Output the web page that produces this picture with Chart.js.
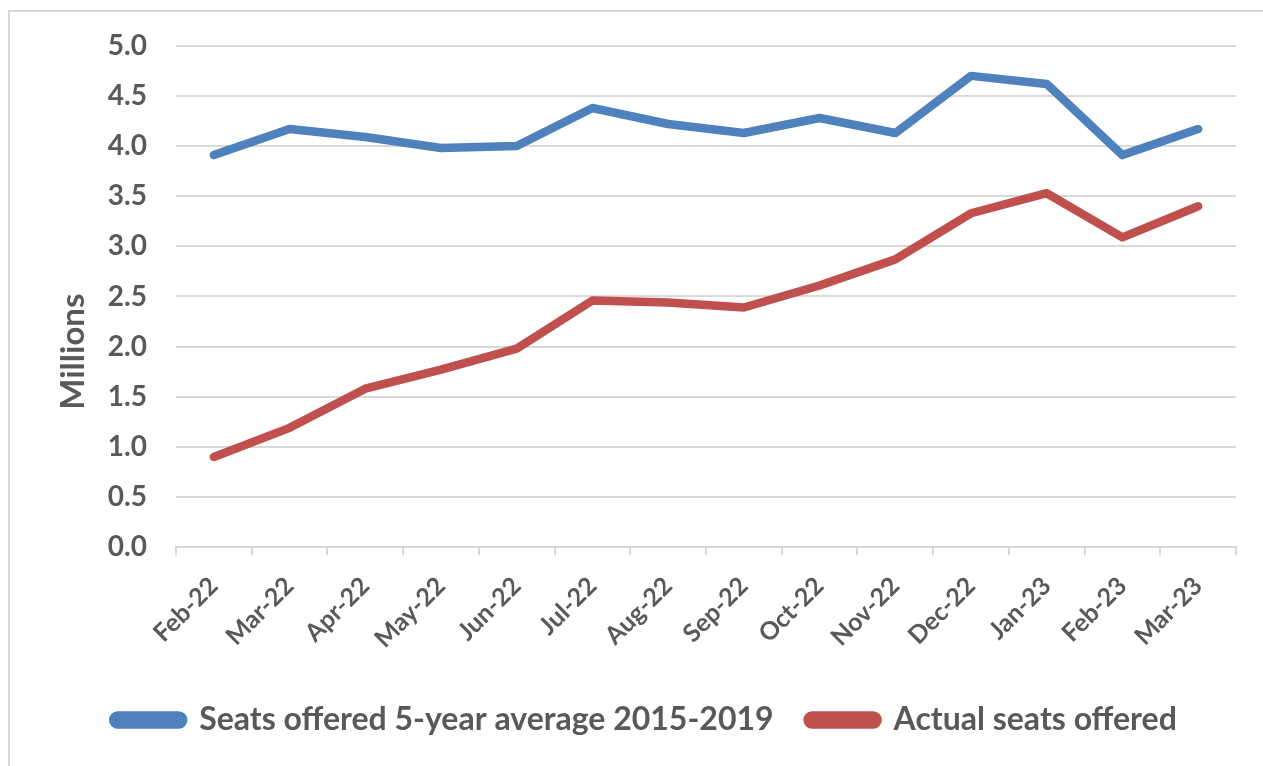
<!DOCTYPE html>
<html>
<head>
<meta charset="utf-8">
<script src="https://cdn.jsdelivr.net/npm/chart.js@4"></script>
<style>
  html, body { margin: 0; padding: 0; background: #fff; }
  #frame {
    position: absolute; left: 8px; top: 10px; width: 1270px; height: 770px;
    border-left: 2px solid #d9d9d9; border-top: 2px solid #d9d9d9;
  }
  #wrap { position: absolute; left: 0; top: 0; width: 1263px; height: 766px; }
</style>
</head>
<body>
<div id="frame"></div>
<div id="wrap"><canvas id="seats"></canvas></div>
<script>
// months shown on the x axis
const months = ['Feb-22', 'Mar-22', 'Apr-22', 'May-22', 'Jun-22', 'Jul-22', 'Aug-22',
  'Sep-22', 'Oct-22', 'Nov-22', 'Dec-22', 'Jan-23', 'Feb-23', 'Mar-23'];

// seats, in millions
const avgSeats = [3.91, 4.17, 4.09, 3.98, 4.00, 4.38, 4.22, 4.13, 4.28, 4.13, 4.70, 4.62, 3.91, 4.17];
const actualSeats = [0.90, 1.19, 1.58, 1.77, 1.98, 2.46, 2.44, 2.39, 2.61, 2.87, 3.33, 3.53, 3.09, 3.40];

const avgLabel = 'Seats offered 5-year average 2015-2019';
const actualLabel = 'Actual seats offered';

const gray = '#595959';
const gridGray = '#d9d9d9';
const fontFam = 'Lato, "Open Sans", sans-serif';

// y title sits a bit below centre in the original, so draw it by hand
const yTitle = {
  id: 'yTitle',
  afterDraw(chart) {
    const ctx = chart.ctx;
    const area = chart.chartArea;
    ctx.save();
    ctx.translate(73, area.top + (area.bottom - area.top) * 0.61);
    ctx.rotate(-Math.PI / 2);
    ctx.fillStyle = gray;
    ctx.font = 'bold 33px ' + fontFam;
    ctx.textAlign = 'center';
    ctx.textBaseline = 'middle';
    ctx.fillText('Millions', 0, 0);
    ctx.restore();
  }
};

new Chart(document.getElementById('seats'), {
  type: 'line',
  data: {
    labels: months,
    datasets: [
      {
        label: avgLabel,
        data: avgSeats,
        borderColor: '#4f81bd',
        backgroundColor: '#4f81bd',
        borderWidth: 8.5,
        pointRadius: 0,
        borderCapStyle: 'round',
        borderJoinStyle: 'round',
        tension: 0
      },
      {
        label: actualLabel,
        data: actualSeats,
        borderColor: '#c0504d',
        backgroundColor: '#c0504d',
        borderWidth: 8.5,
        pointRadius: 0,
        borderCapStyle: 'round',
        borderJoinStyle: 'round',
        tension: 0
      }
    ]
  },
  options: {
    responsive: true,
    maintainAspectRatio: false,
    animation: false,
    layout: { padding: { left: 54, right: 27, top: 41, bottom: 20 } },
    plugins: {
      legend: {
        position: 'bottom',
        labels: {
          color: gray,
          font: { family: fontFam, size: 32, weight: 'bold' },
          boxWidth: 70,
          boxHeight: 9,
          useBorderRadius: true,
          borderRadius: 4.5,
          padding: 34
        }
      },
      tooltip: { enabled: false }
    },
    scales: {
      x: {
        offset: true,
        grid: {
          offset: true,
          drawOnChartArea: false,
          drawTicks: true,
          tickLength: 8,
          color: gridGray,
          lineWidth: 2
        },
        border: { display: true, color: gridGray, width: 2 },
        ticks: {
          color: gray,
          font: { family: fontFam, size: 25, weight: 'bold' },
          maxRotation: 45,
          minRotation: 45,
          padding: 16
        }
      },
      y: {
        min: 0,
        max: 5,
        // leave room for the hand-drawn "Millions" title
        afterFit: scale => { scale.width = 122; },
        ticks: {
          stepSize: 0.5,
          color: gray,
          padding: 29,
          font: { family: fontFam, size: 28, weight: 'bold' },
          callback: v => v.toFixed(1)
        },
        grid: { color: gridGray, lineWidth: 2, drawTicks: false },
        border: { display: false }
      }
    }
  },
  plugins: [yTitle]
});
</script>
</body>
</html>
